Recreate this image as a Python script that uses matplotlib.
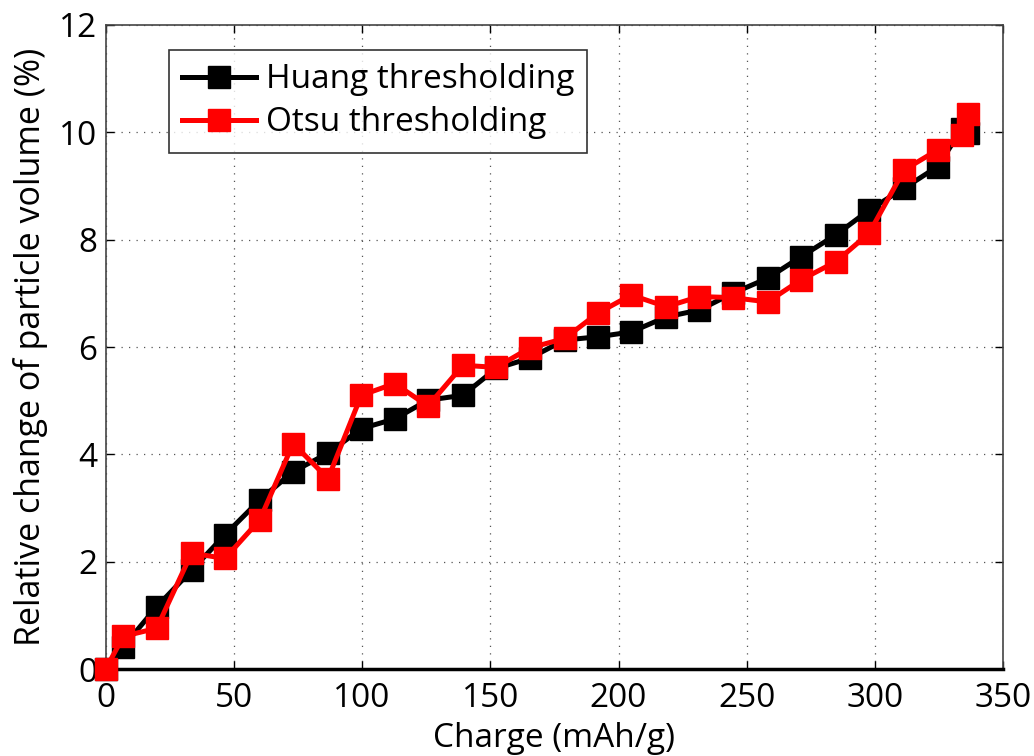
import matplotlib
matplotlib.use("Agg")
import matplotlib.pyplot as plt

plt.rcParams["font.family"] = ["Open Sans", "DejaVu Sans"]

# charge (mAh/g) and relative volume change (%)
charge = [0, 6.9, 19.9, 33.5, 46.5, 60.1, 73.1, 86.7, 99.7, 112.7, 125.7,
          139.3, 152.3, 165.3, 179.0, 191.9, 204.9, 218.6, 231.5, 244.5,
          258.1, 271.1, 284.8, 297.7, 311.4, 324.4, 334.0, 336.1]
huang = [0, 0.42, 1.16, 1.84, 2.50, 3.15, 3.68, 4.02, 4.48, 4.66, 5.01,
         5.10, 5.60, 5.79, 6.13, 6.19, 6.28, 6.56, 6.69, 7.00,
         7.28, 7.68, 8.09, 8.55, 8.96, 9.36, 10.07, 9.98]
otsu = [0, 0.61, 0.76, 2.16, 2.06, 2.78, 4.20, 3.55, 5.10, 5.32, 4.90,
        5.66, 5.62, 5.98, 6.16, 6.63, 6.97, 6.75, 6.94, 6.92,
        6.84, 7.25, 7.59, 8.12, 9.30, 9.67, 9.95, 10.35]

fig = plt.figure(figsize=(10.34, 7.56), dpi=100)
ax = fig.add_axes([0.1022, 0.115, 0.868, 0.852])

ax.plot(charge, huang, "-s", color="black", lw=3.6, ms=16.5,
        label="Huang thresholding", clip_on=False, zorder=3)
ax.plot(charge, otsu, "-s", color="red", lw=3.6, ms=16.5,
        mec="red", label="Otsu thresholding", clip_on=False, zorder=4)

ax.set_xlim(0, 350)
ax.set_ylim(0, 12)
ax.set_xticks(range(0, 351, 50))
ax.set_yticks(range(0, 13, 2))
ax.grid(True, ls=(0, (1, 5)), color="#555555", lw=0.9)
ax.tick_params(direction="in", top=True, right=True, labelsize=24,
               length=6, width=1)
ax.tick_params(axis="x", pad=9)
ax.tick_params(axis="y", pad=6)
for s in ["left", "top", "right"]:
    ax.spines[s].set_linewidth(1.2)
    ax.spines[s].set_color("#444444")
ax.spines["bottom"].set_linewidth(2.5)

ax.set_xlabel("Charge (mAh/g)", fontsize=24, va="baseline")
ax.xaxis.set_label_coords(0.5, -0.121)
ax.set_ylabel("Relative change of particle volume (%)", fontsize=24.5, labelpad=8)

leg = ax.legend(loc="upper left", bbox_to_anchor=(0.0705, 0.961),
                fontsize=24, handlelength=2.2, frameon=True, fancybox=False,
                edgecolor="black", borderpad=0.4, labelspacing=0.3,
                handletextpad=0.3, borderaxespad=0)
leg.get_frame().set_linewidth(1.2)

fig.savefig("out.png", dpi=100)
